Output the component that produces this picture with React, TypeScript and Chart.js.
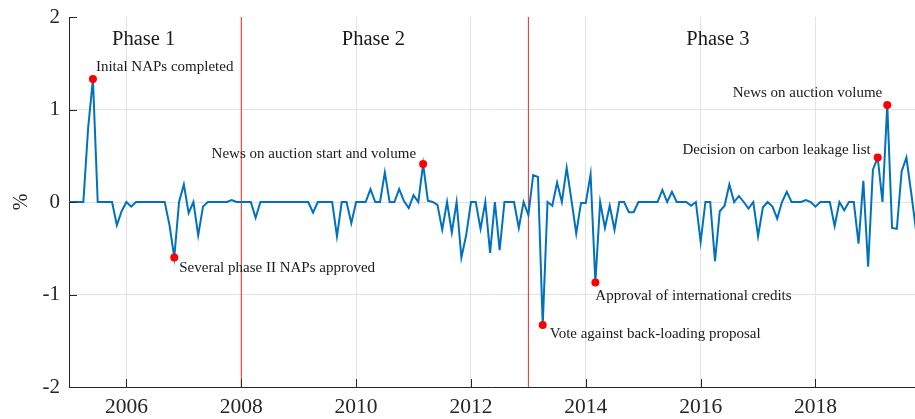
import React, { useEffect, useRef } from 'react';
import { Chart, registerables } from 'chart.js';

Chart.register(...registerables);

// Monthly series, starting January 2005 (percent)
const startYear = 2005;
const monthlyChange: number[] = [
  0, 0, 0, 0, 0.8, 1.33, 0, 0, 0, 0, -0.25, -0.1,
  0, -0.05, 0, 0, 0, 0, 0, 0, 0, -0.25, -0.6, 0,
  0.19, -0.12, 0, -0.36, -0.05, 0, 0, 0, 0, 0, 0.02, 0,
  0, 0, 0, -0.17, 0, 0, 0, 0, 0, 0, 0, 0,
  0, 0, 0, -0.115, 0, 0, 0, 0, -0.37, 0, 0, -0.23,
  0, 0, 0, 0.14, 0, 0, 0.32, 0, 0, 0.14, 0.01, -0.065,
  0.075, 0, 0.41, 0.015, 0, -0.03, -0.3, 0, -0.33, 0, -0.6, -0.36,
  0, 0, -0.29, 0, -0.55, 0, -0.52, 0, 0, 0, -0.28, 0,
  -0.14, 0.29, 0.27, -1.33, 0, -0.04, 0.21, 0, 0.37, 0.02, -0.34, -0.01,
  -0.01, 0.3, -0.87, 0, -0.28, -0.04, -0.3, 0, 0, -0.11, -0.11, 0,
  0, 0, 0, 0, 0.13, 0, 0.11, 0, 0, 0, -0.04, 0,
  -0.43, 0, 0, -0.64, -0.1, -0.04, 0.19, 0, 0.065, 0, -0.07, 0,
  -0.37, -0.06, 0, -0.05, -0.18, 0, 0.11, 0, 0, 0, 0.02, 0,
  -0.05, 0, 0, 0, -0.26, 0, -0.09, 0, 0, -0.45, 0.23, -0.7,
  0.35, 0.48, 0, 1.05, -0.28, -0.29, 0.33, 0.48, 0.1, -0.3,
];

const eventLabels: string[] = [
  'Inital NAPs completed',
  'Several phase II NAPs approved',
  'News on auction start and volume',
  'Vote against back-loading proposal',
  'Approval of international credits',
  'Decision on carbon leakage list',
  'News on auction volume',
];
const eventMonths: number[] = [5, 22, 74, 99, 110, 169, 171];
const eventValues: number[] = [1.33, -0.6, 0.41, -1.33, -0.87, 0.48, 1.05];

const phaseLabels: string[] = ['Phase 1', 'Phase 2', 'Phase 3'];
const phaseX: number[] = [2005.75, 2009.75, 2015.75];
const phaseY = 1.76;
const phaseBreaks: number[] = [2008, 2013];

const xTicks: number[] = [2006, 2008, 2010, 2012, 2014, 2016, 2018];
const xMin = 2005;
const xMax = 2019.733;
const yMin = -2;
const yMax = 2;

// label placement relative to dot (style)
const labelPlacement = [
  { dx: 3, dy: -12, align: 'left' },
  { dx: 5, dy: 11, align: 'left' },
  { dx: -7, dy: -10, align: 'right' },
  { dx: 7, dy: 9, align: 'left' },
  { dx: 0, dy: 14, align: 'left' },
  { dx: -7, dy: -8, align: 'right' },
  { dx: -5, dy: -12, align: 'right' },
];

const SERIF = '"Liberation Serif", "DejaVu Serif", serif';

const overlayPlugin = {
  id: 'overlayPlugin',
  afterDatasetsDraw(chart: any) {
    const ctx = chart.ctx;
    const { left, bottom } = chart.chartArea;
    const xs = chart.scales.x;
    const ys = chart.scales.y;
    ctx.save();
    // inward tick marks
    ctx.strokeStyle = '#262626';
    ctx.lineWidth = 1;
    xs.ticks.forEach((t: any) => {
      const px = Math.round(xs.getPixelForValue(t.value)) + 0.5;
      ctx.beginPath();
      ctx.moveTo(px, bottom);
      ctx.lineTo(px, bottom - 8);
      ctx.stroke();
    });
    ys.ticks.forEach((t: any) => {
      const py = Math.round(ys.getPixelForValue(t.value)) + 0.5;
      ctx.beginPath();
      ctx.moveTo(left, py);
      ctx.lineTo(left + 8, py);
      ctx.stroke();
    });
    // event labels
    const meta = chart.getDatasetMeta(0);
    ctx.fillStyle = '#1a1a1a';
    ctx.textBaseline = 'middle';
    ctx.font = '15px ' + SERIF;
    meta.data.forEach((pt: any, i: number) => {
      const p = labelPlacement[i];
      ctx.textAlign = p.align;
      ctx.fillText(eventLabels[i], pt.x + p.dx, pt.y + p.dy);
    });
    // phase labels
    ctx.font = '20.5px ' + SERIF;
    ctx.textAlign = 'left';
    phaseLabels.forEach((l, i) => {
      ctx.fillText(l, xs.getPixelForValue(phaseX[i]), ys.getPixelForValue(phaseY));
    });
    ctx.restore();
  },
};

export default function App() {
  const canvasRef = useRef<HTMLCanvasElement | null>(null);

  useEffect(() => {
    document.body.style.margin = '0';
    const canvas = canvasRef.current;
    if (!canvas) return;

    const seriesData = monthlyChange.map((v, i) => ({ x: startYear + i / 12, y: v }));
    const eventData = eventMonths.map((m, i) => ({ x: startYear + m / 12, y: eventValues[i] }));
    const breakSets = phaseBreaks.map((b) => ({
      type: 'line' as const,
      data: [
        { x: b, y: yMin },
        { x: b, y: yMax },
      ],
      borderColor: 'rgb(235,40,40)',
      borderWidth: 1,
      pointRadius: 0,
      order: 2,
    }));

    const chart = new Chart(canvas, {
      type: 'line',
      data: {
        datasets: [
          {
            data: eventData,
            showLine: false,
            pointRadius: 4,
            pointBackgroundColor: '#ff0000',
            pointBorderWidth: 0,
            borderColor: '#ff0000',
            order: 0,
          },
          {
            data: seriesData,
            borderColor: '#0072BD',
            borderWidth: 2,
            pointRadius: 0,
            tension: 0,
            order: 1,
          },
          ...breakSets,
        ],
      },
      options: {
        animation: false,
        responsive: false,
        devicePixelRatio: 1,
        parsing: false,
        normalized: true,
        layout: { autoPadding: false, padding: { top: 17, right: 0, left: 0, bottom: 0 } },
        plugins: {
          legend: { display: false },
          tooltip: { enabled: false },
        },
        scales: {
          x: {
            type: 'linear',
            min: xMin,
            max: xMax,
            afterBuildTicks: (s: any) => {
              s.ticks = xTicks.map((v) => ({ value: v }));
            },
            afterFit: (s: any) => {
              s.height = 32;
              s.paddingLeft = 0;
              s.paddingRight = 0;
            },
            grid: {
              color: '#e3e3e3',
              drawTicks: false,
              lineWidth: 1,
            },
            border: { display: true, color: '#262626', width: 1 },
            ticks: {
              callback: (v: any) => String(v),
              font: { family: SERIF, size: 21.5 },
              color: '#262626',
              padding: 7,
              maxRotation: 0,
              autoSkip: false,
            },
          },
          y: {
            type: 'linear',
            min: yMin,
            max: yMax,
            afterFit: (s: any) => {
              s.width = 69;
              s.paddingTop = 0;
              s.paddingBottom = 0;
            },
            grid: {
              color: (c: any) => (c.tick && c.tick.value === yMax ? 'rgba(0,0,0,0)' : '#e3e3e3'),
              drawTicks: false,
              lineWidth: 1,
            },
            border: { display: true, color: '#262626', width: 1 },
            ticks: {
              stepSize: 1,
              callback: (v: any) => String(v),
              font: { family: SERIF, size: 21 },
              color: '#262626',
              padding: 9,
            },
            title: {
              display: true,
              text: '%',
              font: { family: SERIF, size: 20 },
              color: '#262626',
              padding: { top: 10, bottom: 0 },
            },
          },
        },
      },
      plugins: [overlayPlugin],
    });

    return () => {
      chart.destroy();
    };
  }, []);

  return (
    <div style={{ position: 'absolute', left: 0, top: 0, width: 915, height: 419 }}>
      <canvas ref={canvasRef} width={915} height={419} style={{ width: 915, height: 419 }} />
    </div>
  );
}
